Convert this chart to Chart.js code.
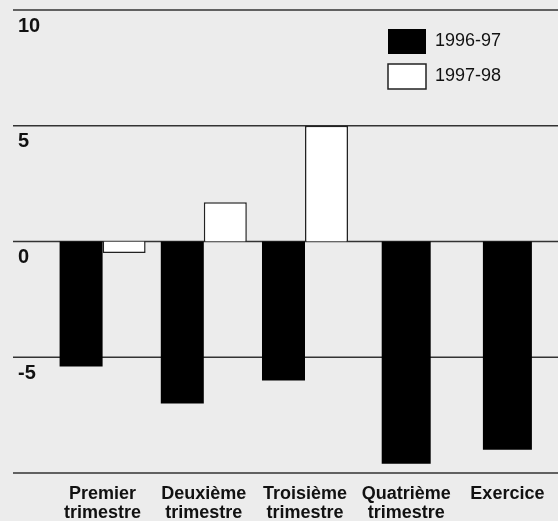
<!DOCTYPE html>
<html>
<head>
<meta charset="utf-8">
<script src="https://cdn.jsdelivr.net/npm/chart.js@4.4.1/dist/chart.umd.min.js"></script>
<style>
  html, body { margin: 0; padding: 0; background: #ececec; }
  #wrap { width: 558px; height: 521px; position: relative; }
</style>
</head>
<body>
<div id="wrap"><canvas id="myChart"></canvas></div>
<script>
const quarterLabels = [['Premier', 'trimestre'], ['Deuxième', 'trimestre'], ['Troisième', 'trimestre'], ['Quatrième', 'trimestre'], ['Exercice']];
const results9697 = [-5.4, -7.0, -6.0, -9.6, -9.0];
const results9798 = [-0.5, 1.7, 5.0, null, null];
const yTickValues = [-10, -5, 0, 5, 10];
const yTickLabels = ['', '-5', '0', '5', '10'];

const fontFamily = '"Liberation Sans", Arial, sans-serif';

// horizontal rules run the full width, under the bars
const gridLines = {
    id: 'gridLines',
    beforeDatasetsDraw(chart) {
        const ctx = chart.ctx;
        const y = chart.scales.y;
        ctx.save();
        ctx.strokeStyle = '#333';
        ctx.lineWidth = 1.5;
        y.ticks.forEach(t => {
            const py = y.getPixelForValue(t.value);
            ctx.beginPath();
            ctx.moveTo(13, py);
            ctx.lineTo(chart.width, py);
            ctx.stroke();
        });
        ctx.restore();
    }
};

// put the legend in the top right corner of the plot
const legendPlace = {
    id: 'legendPlace',
    afterLayout(chart) {
        const lg = chart.legend;
        lg.left = 378;
        lg.right = lg.left + lg.width;
        lg.top = 19;
        lg.bottom = lg.top + lg.height;
    }
};

const ctx = document.getElementById('myChart').getContext('2d');
const myChart = new Chart(ctx, {
    type: 'bar',
    data: {
        labels: quarterLabels,
        datasets: [{
            label: '1996-97',
            data: results9697,
            backgroundColor: '#000',
            borderColor: '#000',
            borderWidth: 0,
            maxBarThickness: 49
        },
        {
            label: '1997-98',
            data: results9798,
            backgroundColor: '#fff',
            borderColor: '#222',
            borderWidth: 1.5
        }]
    },
    options: {
        responsive: true,
        maintainAspectRatio: false,
        animation: false,
        skipNull: true,
        categoryPercentage: 0.85,
        barPercentage: 1.0,
        layout: {
            padding: { left: 18, top: 10, right: 0, bottom: 0 }
        },
        plugins: {
            legend: {
                position: 'chartArea',
                align: 'start',
                labels: {
                    boxWidth: 38,
                    boxHeight: 25,
                    padding: 10,
                    color: '#111',
                    font: { family: fontFamily, size: 18 }
                }
            },
            tooltip: { enabled: false }
        },
        scales: {
            x: {
                grid: { display: false, drawTicks: false },
                border: { display: false },
                ticks: {
                    color: '#111',
                    padding: 11,
                    maxRotation: 0,
                    autoSkip: false,
                    font: { family: fontFamily, size: 18, weight: 'bold', lineHeight: 1.08 }
                },
                afterFit(scale) { scale.height = 48; }
            },
            y: {
                min: -10,
                max: 10,
                grid: { display: false, drawTicks: false },
                border: { display: false },
                ticks: {
                    stepSize: 5,
                    crossAlign: 'far',
                    labelOffset: 16,
                    color: '#111',
                    font: { family: fontFamily, size: 20, weight: 'bold' },
                    callback: (v) => yTickLabels[yTickValues.indexOf(v)]
                },
                afterFit(scale) {
                    scale.width = 34;
                    scale.paddingTop = 0;
                    scale.paddingBottom = 0;
                }
            }
        }
    },
    plugins: [gridLines, legendPlace]
});
</script>
</body>
</html>
